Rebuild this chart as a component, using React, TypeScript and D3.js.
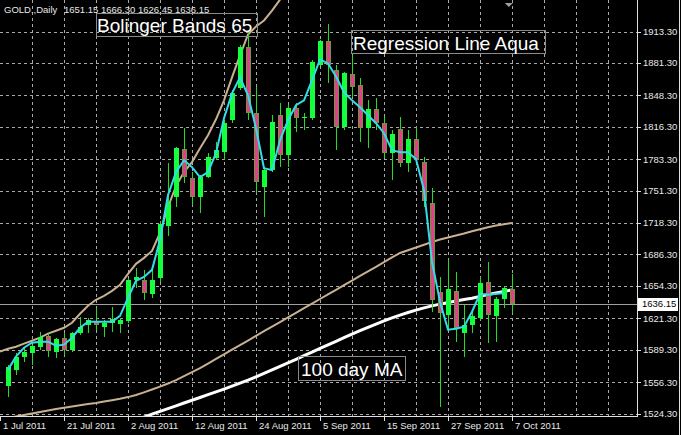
import React from 'react';
import * as d3 from 'd3';

// GOLD., Daily — bars from 12 Jul 2011 to 7 Oct 2011
const openPrices = [
  1552.7, 1569.0, 1582.2, 1586.3, 1592.3, 1603.5, 1587.3, 1601.5, 1589.3, 1606.6,
  1614.7, 1618.8, 1612.7, 1616.7, 1615.7, 1618.8, 1660.4, 1660.4, 1646.2, 1662.4,
  1715.3, 1744.7, 1793.4, 1764.0, 1744.7, 1765.0, 1784.3, 1790.4, 1822.9, 1855.4,
  1897.1, 1830.0, 1754.9, 1772.1, 1828.0, 1787.4, 1835.1, 1825.0, 1825.0, 1878.8,
  1903.2, 1873.7, 1815.8, 1869.6, 1858.5, 1814.8, 1834.1, 1819.9, 1789.4, 1813.8,
  1779.2, 1803.6, 1780.3, 1738.6, 1648.2, 1624.9, 1649.2, 1606.6, 1614.7, 1621.8,
  1658.4, 1623.8, 1641.1, 1651.15,
];
const highPrices = [
  1574.1, 1586.3, 1591.3, 1594.4, 1607.6, 1606.6, 1601.5, 1606.6, 1607.6, 1622.8,
  1621.8, 1631.9, 1619.8, 1632.9, 1621.8, 1662.4, 1672.6, 1670.5, 1670.5, 1720.3,
  1779.2, 1795.5, 1814.8, 1770.1, 1767.0, 1789.4, 1800.6, 1822.9, 1853.4, 1899.1,
  1914.3, 1856.4, 1775.2, 1828.0, 1840.2, 1838.2, 1840.2, 1830.0, 1883.9, 1904.2,
  1921.4, 1878.8, 1871.7, 1888.9, 1865.6, 1843.2, 1845.3, 1826.0, 1812.7, 1826.0,
  1812.7, 1815.8, 1785.3, 1753.8, 1663.4, 1680.7, 1668.5, 1635.0, 1629.9, 1663.4,
  1678.7, 1643.1, 1654.3, 1666.3,
];
const lowPrices = [
  1540.6, 1563.9, 1577.1, 1574.1, 1589.3, 1582.2, 1581.2, 1584.2, 1587.3, 1604.5,
  1606.6, 1609.6, 1602.5, 1607.6, 1606.6, 1616.7, 1652.3, 1640.1, 1642.1, 1658.4,
  1705.1, 1734.5, 1758.9, 1736.6, 1728.4, 1764.0, 1782.3, 1782.3, 1819.9, 1853.4,
  1822.9, 1748.8, 1724.4, 1770.1, 1775.2, 1775.2, 1810.7, 1812.7, 1822.9, 1877.8,
  1860.5, 1792.4, 1812.7, 1846.3, 1800.6, 1794.5, 1812.7, 1784.3, 1762.0, 1775.2,
  1770.1, 1779.2, 1734.5, 1627.9, 1531.4, 1609.6, 1597.4, 1582.2, 1606.6, 1619.8,
  1596.4, 1597.4, 1631.9, 1626.45,
];
const closePrices = [
  1572.0, 1582.2, 1587.3, 1593.4, 1602.5, 1588.3, 1600.5, 1589.3, 1606.6, 1612.7,
  1619.8, 1614.7, 1616.7, 1620.8, 1619.8, 1660.4, 1663.4, 1647.2, 1660.4, 1717.3,
  1739.6, 1794.5, 1765.0, 1744.7, 1765.0, 1785.3, 1792.4, 1819.9, 1850.3, 1897.1,
  1830.0, 1759.9, 1772.1, 1820.9, 1787.4, 1835.1, 1825.0, 1826.5, 1881.8, 1903.2,
  1878.8, 1815.8, 1870.7, 1856.4, 1814.8, 1834.1, 1819.9, 1789.4, 1808.7, 1779.2,
  1803.6, 1782.3, 1740.6, 1640.1, 1626.9, 1651.3, 1611.6, 1614.7, 1623.8, 1657.4,
  1624.9, 1641.1, 1652.3, 1636.15,
];

// Regression line (aqua), from bar 0
const regression = [
  1569.0, 1582.2, 1591.3, 1596.4, 1597.4, 1597.4, 1593.4, 1594.4, 1601.5, 1611.6,
  1617.7, 1617.7, 1617.7, 1617.7, 1623.8, 1642.1, 1659.4, 1663.4, 1670.6, 1701.0,
  1746.7, 1770.1, 1782.3, 1775.2, 1765.0, 1770.1, 1789.4, 1825.0, 1850.3, 1866.6,
  1848.3, 1814.8, 1774.2, 1772.1, 1802.6, 1822.9, 1838.2, 1843.2, 1863.5, 1884.9,
  1880.8, 1867.6, 1851.4, 1843.2, 1836.1, 1828.0, 1819.9, 1809.7, 1792.4, 1790.4,
  1790.4, 1783.3, 1751.8, 1678.7, 1638.1, 1609.6, 1610.6, 1612.7, 1627.9, 1646.2,
  1645.2, 1646.2, 1646.7,
];

// Bollinger Bands 65: upper band (runs off the top) and middle band, from bar -1
const bandStart = -1;
const bandUpper = [
  1587.3, 1590.3, 1592.3, 1595.4, 1598.4, 1601.5, 1605.6, 1608.6, 1611.6, 1616.7,
  1625.9, 1634.0, 1640.1, 1644.1, 1649.2, 1655.3, 1666.5, 1676.7, 1682.8, 1689.9,
  1708.1, 1734.6, 1755.9, 1770.1, 1780.3, 1794.5, 1807.7, 1823.9, 1843.2, 1866.6,
  1888.9, 1910.3, 1918.4, 1924.5, 1934.6, 1945.8, 1957.0,
];
const bandMiddle = [
  1518.2, 1519.7, 1521.2, 1522.8, 1524.3, 1525.8, 1527.3, 1528.9, 1530.2, 1531.4,
  1532.6, 1533.9, 1535.1, 1536.5, 1537.9, 1539.3, 1541.0, 1543.1, 1545.8, 1548.7,
  1551.7, 1554.8, 1558.3, 1562.4, 1566.4, 1570.5, 1575.2, 1579.9, 1584.6, 1589.3,
  1594.0, 1598.6, 1603.3, 1608.1, 1612.8, 1617.4, 1622.1, 1626.8, 1631.6, 1636.2,
  1640.9, 1645.6, 1650.2, 1655.0, 1659.7, 1664.4, 1669.0, 1673.7, 1678.4, 1683.2,
  1687.8, 1690.6, 1693.4, 1696.2, 1699.0, 1701.5, 1703.6, 1705.6, 1707.6, 1709.9,
  1712.0, 1714.0, 1715.8, 1717.1, 1718.3,
];

// 100 day MA (white), from bar 16
const ma100Start = 16;
const ma100 = [
  1517.7, 1520.7, 1523.6, 1526.4, 1529.3, 1532.1, 1535.0, 1537.8, 1540.6, 1543.5,
  1546.3, 1549.2, 1552.2, 1555.3, 1558.3, 1561.7, 1565.1, 1568.7, 1572.2, 1575.9,
  1579.5, 1583.2, 1586.9, 1590.5, 1594.2, 1597.8, 1601.5, 1605.1, 1608.6, 1612.1,
  1615.4, 1618.7, 1621.7, 1624.5, 1627.2, 1629.6, 1631.9, 1633.9, 1635.7, 1637.3,
  1638.9, 1640.3, 1641.7, 1643.6, 1645.4, 1647.0, 1648.6, 1650.2,
];

const priceTicks = [
  1913.3, 1881.3, 1848.3, 1816.3, 1783.3, 1751.3, 1718.3, 1686.3, 1654.3, 1621.3,
  1589.3, 1556.3, 1524.3,
];
const dateLabels = [
  '1 Jul 2011', '21 Jul 2011', '2 Aug 2011', '12 Aug 2011', '24 Aug 2011',
  '5 Sep 2011', '15 Sep 2011', '27 Sep 2011', '7 Oct 2011',
];
const dateLabelBars = [-1, 7, 15, 23, 31, 39, 47, 55, 63];
const lastPrice = 1636.15;

const W = 681;
const H = 435;
const plotR = 637;
const plotB = 416;
const FONT = '"Liberation Sans", Arial, sans-serif';

export default function App() {
  const x = d3.scaleLinear().domain([-1, 78.625]).range([0, plotR]);
  const y = d3.scaleLinear().domain([1524.3, 1913.3]).range([413.5, 31.5]);

  const gridBars = d3.range(3, 78, 4);

  const line = d3
    .line<[number, number]>()
    .x(d => x(d[0]))
    .y(d => y(d[1]));

  const regPath = line(regression.map((v, i) => [i, v]));
  const upperPath = line(bandUpper.map((v, i) => [i + bandStart, v]));
  const midPath = line(bandMiddle.map((v, i) => [i + bandStart, v]));
  const maPath = line(ma100.map((v, i) => [i + ma100Start, v]));

  const header = `${openPrices[63]} ${highPrices[63].toFixed(2)} ${lowPrices[63]} ${closePrices[63]}`;

  return (
    <svg
      width={W}
      height={H}
      style={{ position: 'fixed', left: 0, top: 0, background: '#000' }}
      fontFamily={FONT}
    >
      <defs>
        <clipPath id="plot">
          <rect x={0} y={0} width={plotR} height={plotB} />
        </clipPath>
      </defs>
      <rect x={0} y={0} width={W} height={H} fill="#000" />

      {/* grid */}
      <g stroke="#a8a8a8" strokeDasharray="3,3" shapeRendering="crispEdges">
        {priceTicks.map(p => (
          <line key={p} x1={0} x2={plotR} y1={Math.round(y(p)) + 0.5} y2={Math.round(y(p)) + 0.5} />
        ))}
        {gridBars.map(b => (
          <line key={b} x1={x(b) + 0.5} x2={x(b) + 0.5} y1={0} y2={plotB} />
        ))}
      </g>

      {/* last price line */}
      <line
        x1={0}
        x2={plotR}
        y1={Math.round(y(lastPrice)) + 0.5}
        y2={Math.round(y(lastPrice)) + 0.5}
        stroke="#a0a0a0"
        shapeRendering="crispEdges"
      />

      <g clipPath="url(#plot)">
        <path d={midPath!} fill="none" stroke="#c8b090" strokeWidth={2} />
        <path d={upperPath!} fill="none" stroke="#c8b090" strokeWidth={2} />
        <path d={maPath!} fill="none" stroke="#ffffff" strokeWidth={3} />

        {/* candles */}
        <g shapeRendering="crispEdges">
          {closePrices.map((c, i) => {
            const o = openPrices[i];
            const cx = x(i);
            const top = Math.round(y(Math.max(o, c)));
            const bot = Math.round(y(Math.min(o, c)));
            const bull = c >= o;
            return (
              <g key={i}>
                <line
                  x1={cx + 0.5}
                  x2={cx + 0.5}
                  y1={y(highPrices[i])}
                  y2={y(lowPrices[i])}
                  stroke="#22dd22"
                />
                {bull ? (
                  <rect x={cx - 2} y={top} width={5} height={Math.max(1, bot - top)} fill="#14ff3c" />
                ) : (
                  <>
                    <rect x={cx - 2} y={top} width={5} height={Math.max(1, bot - top)} fill="#6e9a34" />
                    <rect
                      x={cx - 1}
                      y={top + 1}
                      width={3}
                      height={Math.max(0, bot - top - 2)}
                      fill="#e0408c"
                    />
                  </>
                )}
              </g>
            );
          })}
        </g>

        <path d={regPath!} fill="none" stroke="#33dde8" strokeWidth={2} />
      </g>

      {/* text labels */}
      <g fill="#ffffff" fontSize={19}>
        <rect x={96.5} y={13.5} width={161} height={23} fill="none" stroke="#8a8a8a" />
        <text x={97} y={32}>Bolinger Bands 65</text>
        <rect x={351.5} y={30.5} width={194} height={23} fill="none" stroke="#8a8a8a" />
        <text x={353} y={50}>Regression Line Aqua</text>
        <rect x={298.5} y={356.5} width={107} height={24} fill="none" stroke="#8a8a8a" />
        <text x={301} y={376}>100 day MA</text>
      </g>

      {/* header */}
      <text x={4} y={13} fill="#e8e8e8" fontSize={9.5}>GOLD.,Daily</text>
      <text x={64} y={13} fill="#e8e8e8" fontSize={9.5}>{header}</text>

      {/* shift marker */}
      <path
        d={`M${x(62.6) - 4},3 L${x(62.6) + 4},3 L${x(62.6)},7 Z`}
        fill="#a0a0a0"
      />

      {/* axes */}
      <g stroke="#e0e0e0" shapeRendering="crispEdges">
        <line x1={plotR + 0.5} x2={plotR + 0.5} y1={0} y2={plotB + 1} />
        <line x1={0} x2={plotR + 1} y1={plotB + 0.5} y2={plotB + 0.5} />
        <line x1={W - 1.5} x2={W - 1.5} y1={0} y2={H} />
        {priceTicks.map(p => (
          <line key={p} x1={plotR + 1} x2={plotR + 4} y1={Math.round(y(p)) + 0.5} y2={Math.round(y(p)) + 0.5} />
        ))}
        {dateLabelBars.map(b => (
          <line key={b} x1={x(b) + 0.5} x2={x(b) + 0.5} y1={plotB} y2={plotB + 5} />
        ))}
      </g>
      <g fill="#e8e8e8" fontSize={9.5}>
        {priceTicks.map(p => (
          <text key={p} x={643} y={y(p) + 3.5}>{p.toFixed(2)}</text>
        ))}
        {dateLabels.map((d, k) => (
          <text key={d} x={x(dateLabelBars[k]) + 3} y={429}>{d}</text>
        ))}
      </g>

      {/* last price tag */}
      <rect x={638} y={Math.round(y(lastPrice)) - 6} width={40} height={13} fill="#ffffff" />
      <text x={642} y={y(lastPrice) + 3.5} fill="#000" fontSize={9.5}>{lastPrice.toFixed(2)}</text>
    </svg>
  );
}
